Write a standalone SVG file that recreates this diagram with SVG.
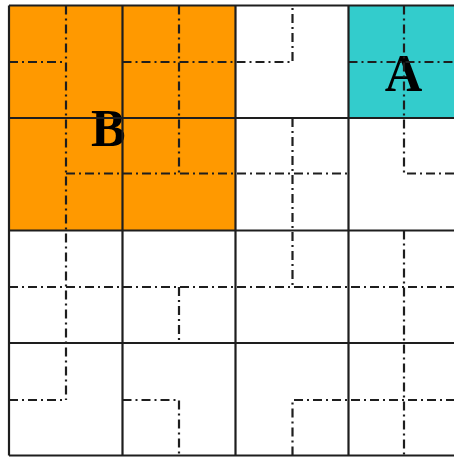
<svg xmlns="http://www.w3.org/2000/svg" width="454" height="458" viewBox="0 0 454 458">
<style>
.lbl{font-family:"Liberation Serif","Times New Roman",serif;font-weight:bold;font-size:52px;fill:#000}
.grid{stroke:#1e1e1e;stroke-width:2.2;fill:none}
.curve{stroke:#1e1e1e;stroke-width:2.2;fill:none;stroke-dasharray:9 4 2 4}
</style>
<rect x="0" y="0" width="454" height="458" fill="#fff"/>
<g id="B">
<rect x="9" y="5.5" width="226.5" height="225" fill="#FF9900"/>
<text class="lbl" x="91" y="146">B</text>
</g>
<g id="A">
<rect x="348.5" y="5.5" width="113.5" height="112.5" fill="#33CCCC"/>
<text class="lbl" x="403.5" y="91" text-anchor="middle">A</text>
</g>
<g id="grid" class="grid">
<path d="M9 5.5H462M9 118H462M9 230.5H462M9 343H462M9 455.5H462"/>
<path d="M9 5.5V455.5M122.5 5.5V455.5M235.5 5.5V455.5M348.5 5.5V455.5"/>
</g>
<g id="connectors" class="curve">
<path d="M66 5.5V400"/>
<path d="M9 62H66"/>
<path d="M122.5 62H292.5V5.5"/>
<path d="M179 5.5V173.5"/>
<path d="M66 173.5H348.5"/>
<path d="M292.5 118V287"/>
<path d="M404 5.5V173.5H454"/>
<path d="M348.5 62H454"/>
<path d="M9 287H454"/>
<path d="M179 287V343"/>
<path d="M9 400H66"/>
<path d="M122.5 400H179V455.5"/>
<path d="M404 230.5V455.5"/>
<path d="M292.5 455.5V400H454"/>
</g>
</svg>
